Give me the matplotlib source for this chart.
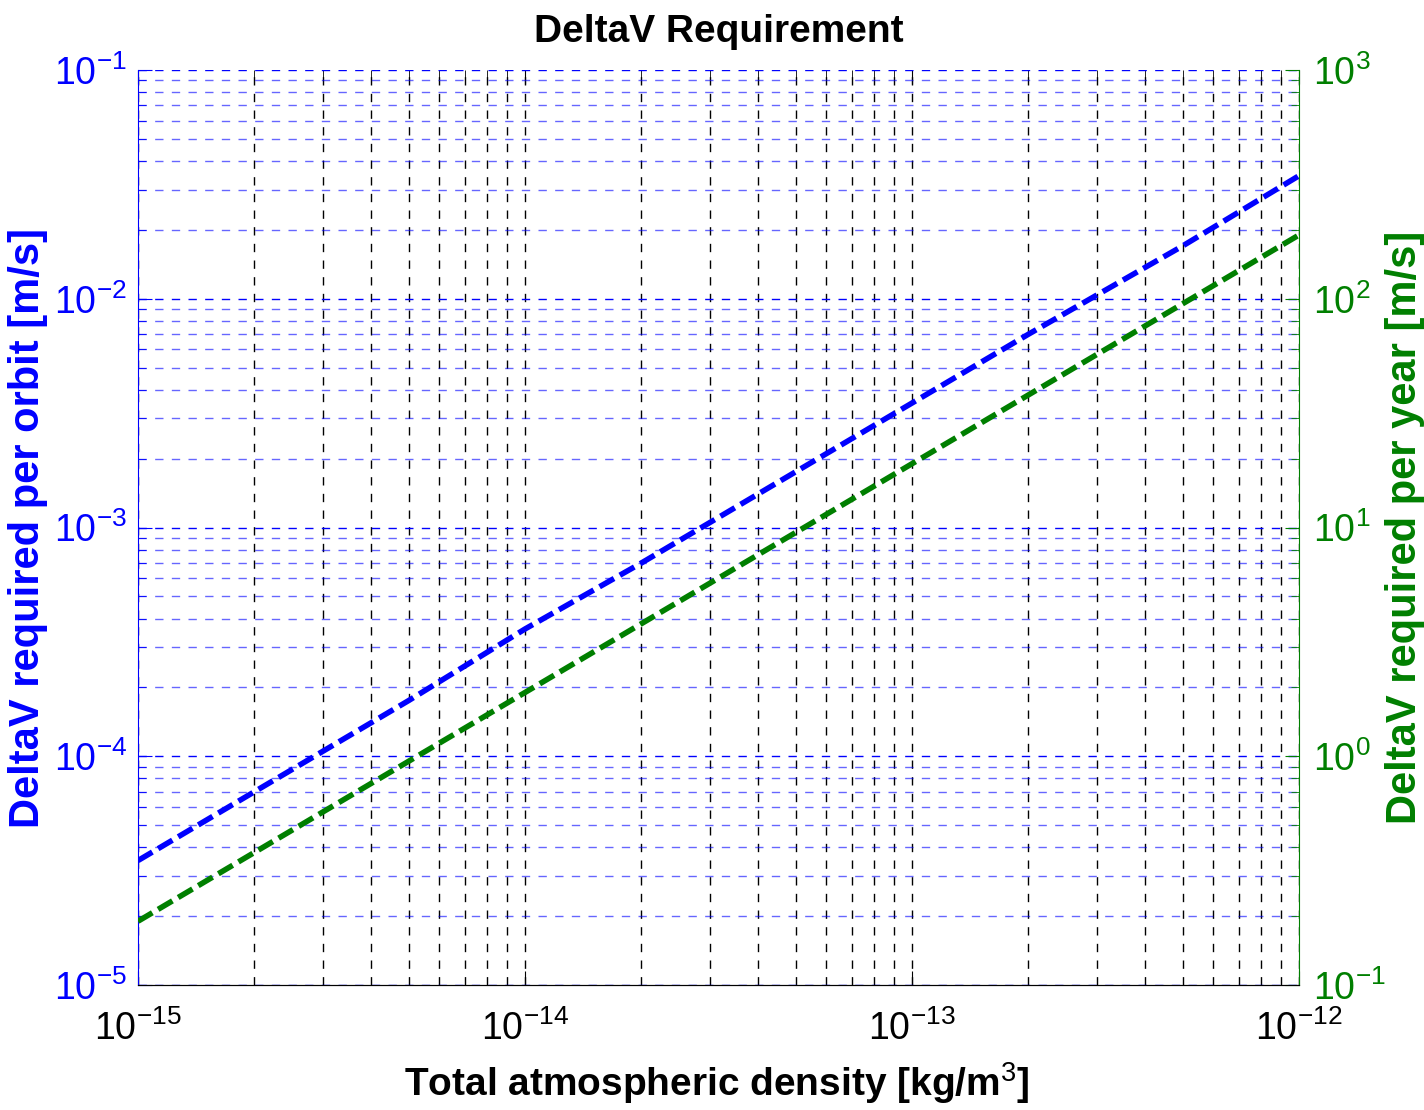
import matplotlib
matplotlib.use("Agg")
import matplotlib.pyplot as plt
from matplotlib.ticker import LogLocator, NullFormatter, FuncFormatter
import numpy as np

plt.rcParams['font.family'] = ['Liberation Sans', 'DejaVu Sans']
plt.rcParams['mathtext.fontset'] = 'custom'
plt.rcParams['mathtext.rm'] = 'Liberation Sans'
plt.rcParams['mathtext.it'] = 'Liberation Sans'

# data
density = [1e-15, 2e-15, 5e-15, 1e-14, 2e-14, 5e-14, 1e-13, 2e-13, 5e-13, 1e-12]
dv_orbit = [3.5e-5, 7.0e-5, 1.75e-4, 3.6e-4, 7.0e-4, 1.75e-3, 3.5e-3, 7.0e-3, 1.7e-2, 3.45e-2]
dv_year = [0.19, 0.38, 0.95, 1.9, 3.8, 9.5, 19.0, 38.0, 95.0, 190.0]

x_ticks = [1e-15, 1e-14, 1e-13, 1e-12]
left_ticks = [1e-5, 1e-4, 1e-3, 1e-2, 1e-1]
right_ticks = [1e-1, 1e0, 1e1, 1e2, 1e3]

blue = "#0000ff"
green = "#007f00"


def pow10(v, pos):
    return r"$10^{%d}$" % int(round(np.log10(v)))


fig = plt.figure(figsize=(14.24, 11.10), dpi=100)
ax = fig.add_axes([138 / 1424, 1 - 985 / 1110, (1299 - 138) / 1424, (985 - 70) / 1110])
ax.set_xscale("log")
ax.set_yscale("log")

ax.plot(density, dv_orbit, color=blue, linestyle="--", linewidth=4, dashes=(3, 1.2), zorder=5)

ax.set_xticks(x_ticks)
ax.set_yticks(left_ticks)
ax.xaxis.set_minor_locator(LogLocator(base=10, subs=range(2, 10), numticks=20))
ax.yaxis.set_minor_locator(LogLocator(base=10, subs=range(2, 10), numticks=20))
ax.xaxis.set_major_formatter(FuncFormatter(pow10))
ax.yaxis.set_major_formatter(FuncFormatter(pow10))
ax.xaxis.set_minor_formatter(NullFormatter())
ax.yaxis.set_minor_formatter(NullFormatter())
ax.set_xlim(1e-15, 1e-12)
ax.set_ylim(1e-5, 1e-1)

# grids
ax.grid(True, which="both", axis="x", color="black", linestyle=(0, (6, 6)), linewidth=1)
ax.grid(True, which="major", axis="y", color=blue, linestyle=(0, (6, 6)), linewidth=1)
ax.grid(True, which="minor", axis="y", color=blue, linestyle=(0, (6, 6)), linewidth=1, alpha=0.6)

ax.tick_params(axis="x", which="both", direction="in", top=True, colors="black",
               labelsize=27, pad=18)
ax.tick_params(axis="x", which="major", length=10)
ax.tick_params(axis="x", which="minor", length=6)
ax.tick_params(axis="y", which="both", direction="in", colors=blue, labelsize=27, pad=8)
ax.tick_params(axis="y", which="major", length=10)
ax.tick_params(axis="y", which="minor", length=6)
ax.spines["left"].set_color(blue)
ax.spines["right"].set_visible(False)
ax.spines["top"].set_visible(False)

ax.set_xlabel("Total atmospheric density [kg/m$^3$]", fontsize=28, fontweight="bold")
ax.xaxis.set_label_coords(0.4987, -0.082)
ax.set_ylabel("DeltaV required per orbit [m/s]", fontsize=30, fontweight="bold", color=blue)
ax.yaxis.set_label_coords(-0.0775, 0.5)
ax.set_title("DeltaV Requirement", fontsize=28, fontweight="bold", pad=20)

ax2 = ax.twinx()
ax2.set_yscale("log")
ax2.plot(density, dv_year, color=green, linestyle="--", linewidth=4, dashes=(3, 1.2), zorder=5)
ax2.set_yticks(right_ticks)
ax2.yaxis.set_minor_locator(LogLocator(base=10, subs=range(2, 10), numticks=20))
ax2.yaxis.set_major_formatter(FuncFormatter(pow10))
ax2.yaxis.set_minor_formatter(NullFormatter())
ax2.set_ylim(1e-1, 1e3)
ax2.tick_params(axis="y", which="both", direction="in", colors=green, labelsize=27, pad=10)
ax2.tick_params(axis="y", which="major", length=10)
ax2.tick_params(axis="y", which="minor", length=6)
ax2.spines["right"].set_color(green)
ax2.spines["left"].set_visible(False)
ax2.spines["top"].set_visible(False)
ax2.set_ylabel("DeltaV required per year [m/s]", fontsize=30, fontweight="bold", color=green)
ax2.yaxis.set_label_coords(1.074, 0.5)

fig.savefig("out.png", dpi=100)
